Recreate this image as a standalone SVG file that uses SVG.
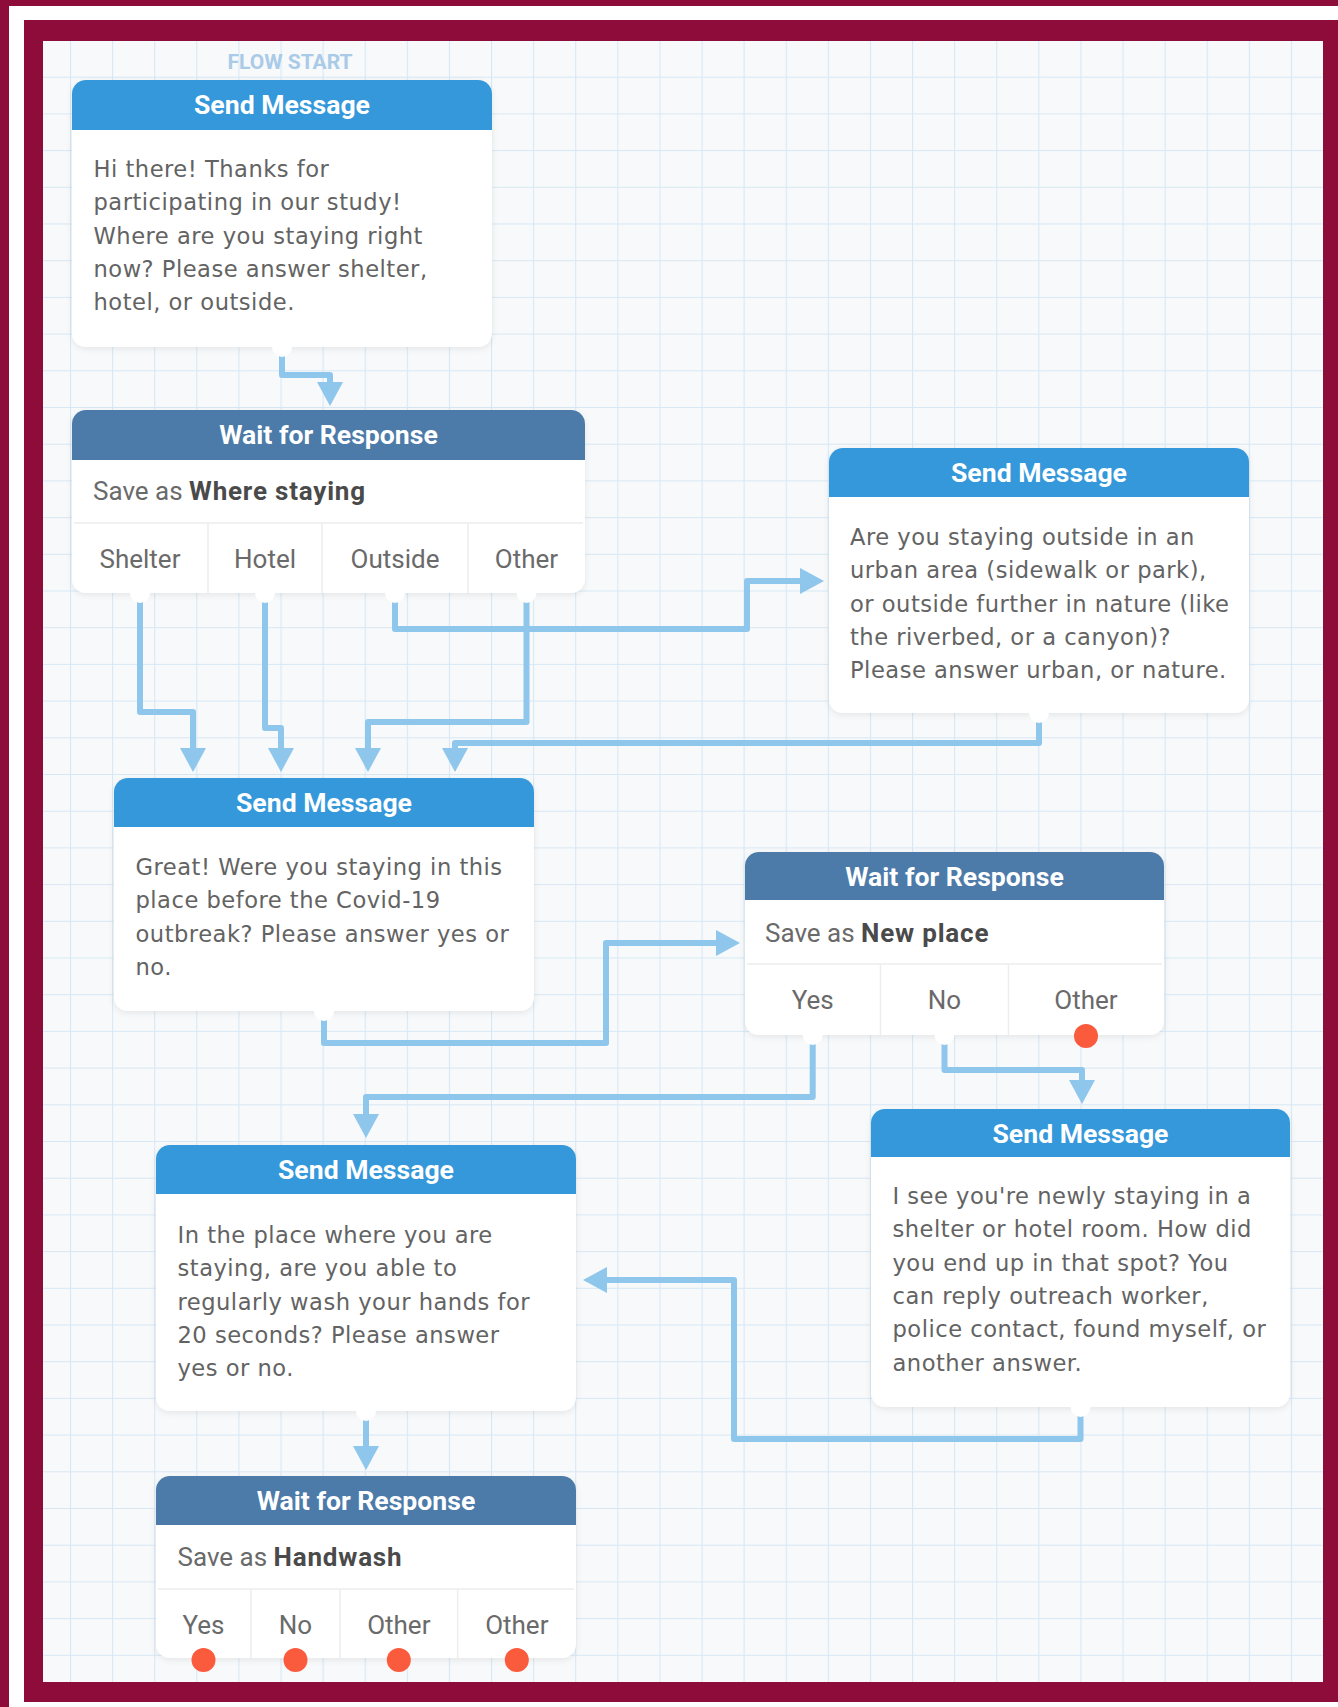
<svg xmlns="http://www.w3.org/2000/svg" width="1338" height="1707" viewBox="0 0 1338 1707">
<defs>
<pattern id="grid" patternUnits="userSpaceOnUse" x="70" y="76.7" width="42.1" height="36.7">
<path d="M0.5,0 V36.7 M0,0.5 H42.1" fill="none" stroke="#d6e8f6" stroke-width="1.2"/>
</pattern>
<marker id="arr" viewBox="0 0 24 26" refX="1" refY="13" markerWidth="24" markerHeight="26" markerUnits="userSpaceOnUse" orient="auto">
<path d="M0,0 L24,13 L0,26 Z" fill="#8fc6ec"/>
</marker>
<filter id="sh" x="-10%" y="-10%" width="120%" height="130%">
<feDropShadow dx="0" dy="2" stdDeviation="3" flood-color="#000" flood-opacity="0.08"/>
</filter>
</defs>
<style>
.body{fill:#fff;filter:url(#sh)}
.hs{fill:#3498db}
.hw{fill:#4c7ba9}
.title{font-family:Roboto,"Liberation Sans",sans-serif;font-weight:bold;font-size:26.6px;fill:#fff;text-anchor:middle}
.txt{font-family:"DejaVu Sans","Liberation Sans",sans-serif;font-size:22.6px;fill:#636363;letter-spacing:0.5px}
.save{font-family:Roboto,"Liberation Sans",sans-serif;font-size:26px;fill:#6a6a6a}
.save tspan.b{font-weight:bold;fill:#4a4a4a;letter-spacing:0.8px}
.cat{font-family:Roboto,"Liberation Sans",sans-serif;font-size:26px;fill:#6a6a6a;text-anchor:middle}
.sep{stroke:#ededed;stroke-width:1.5;fill:none}
.port{fill:#fff}
.dot{fill:#fb5b3d}
.con{fill:none;stroke:#8fc6ec;stroke-width:6;stroke-linejoin:round;marker-end:url(#arr)}
.fs{font-family:Roboto,"Liberation Sans",sans-serif;font-weight:bold;font-size:21px;fill:#a9cbe8;text-anchor:middle}
</style>
<!-- frame -->
<rect x="0" y="0" width="1338" height="1707" fill="#8e0c3a"/>
<rect x="9" y="6" width="1329" height="1701" fill="#ffffff"/>
<rect x="24" y="20" width="1314" height="1682" fill="#8e0c3a"/>
<rect x="43" y="41" width="1280" height="1641" fill="#f8f9fa"/>
<rect x="43" y="41" width="1280" height="1641" fill="url(#grid)"/>
<text class="fs" x="290" y="69">FLOW START</text>
<g id="connectors">
<path class="con" d="M282,347 V375 H330 V383"/>
<path class="con" d="M140,593 V712 H193 V749"/>
<path class="con" d="M265,593 V728 H281 V749"/>
<path class="con" d="M526.5,593 V722 H368 V749"/>
<path class="con" d="M1039,713 V743 H455 V749"/>
<path class="con" d="M395,593 V629 H747 V581 H801"/>
<path class="con" d="M324,1011 V1043 H606 V943 H717"/>
<path class="con" d="M812.7,1035 V1097 H366 V1115"/>
<path class="con" d="M944.5,1035 V1070 H1082 V1081"/>
<path class="con" d="M1080.5,1407 V1439 H734 V1280 H606"/>
<path class="con" d="M366,1411 V1447"/>
</g>
<g id="n1">
<rect class="body" x="72" y="80" width="420" height="267" rx="14"/>
<path class="hs" d="M72,130 V94 A14,14 0 0 1 86,80 H478 A14,14 0 0 1 492,94 V130 Z"/>
<text class="title" x="282" y="114">Send Message</text>
<text class="txt" x="93.5" y="177">Hi there! Thanks for</text>
<text class="txt" x="93.5" y="210.3">participating in our study!</text>
<text class="txt" x="93.5" y="243.6">Where are you staying right</text>
<text class="txt" x="93.5" y="277">now? Please answer shelter,</text>
<text class="txt" x="93.5" y="310.3">hotel, or outside.</text>
<circle class="port" cx="282" cy="347" r="10"/>
</g>
<g id="n2">
<rect class="body" x="72" y="410" width="513" height="183" rx="14"/>
<path class="hw" d="M72,460 V424 A14,14 0 0 1 86,410 H571 A14,14 0 0 1 585,424 V460 Z"/>
<text class="title" x="328.5" y="444">Wait for Response</text>
<text class="save" x="93" y="500">Save as <tspan class="b">Where staying</tspan></text>
<path class="sep" d="M74,523 H583 M208,523 V593 M322,523 V593 M468,523 V593"/>
<text class="cat" x="140" y="568">Shelter</text>
<text class="cat" x="265" y="568">Hotel</text>
<text class="cat" x="395" y="568">Outside</text>
<text class="cat" x="526.5" y="568">Other</text>
<circle class="port" cx="140" cy="593" r="10"/>
<circle class="port" cx="265" cy="593" r="10"/>
<circle class="port" cx="395" cy="593" r="10"/>
<circle class="port" cx="526.5" cy="593" r="10"/>
</g>
<g id="n3">
<rect class="body" x="829" y="448" width="420" height="265" rx="14"/>
<path class="hs" d="M829,497 V462 A14,14 0 0 1 843,448 H1235 A14,14 0 0 1 1249,462 V497 Z"/>
<text class="title" x="1039" y="482">Send Message</text>
<text class="txt" x="850" y="545">Are you staying outside in an</text>
<text class="txt" x="850" y="578.3">urban area (sidewalk or park),</text>
<text class="txt" x="850" y="611.6">or outside further in nature (like</text>
<text class="txt" x="850" y="645">the riverbed, or a canyon)?</text>
<text class="txt" x="850" y="678.3">Please answer urban, or nature.</text>
<circle class="port" cx="1039" cy="713" r="10"/>
</g>
<g id="n4">
<rect class="body" x="114" y="778" width="420" height="233" rx="14"/>
<path class="hs" d="M114,827 V792 A14,14 0 0 1 128,778 H520 A14,14 0 0 1 534,792 V827 Z"/>
<text class="title" x="324" y="812">Send Message</text>
<text class="txt" x="135.5" y="875">Great! Were you staying in this</text>
<text class="txt" x="135.5" y="908.3">place before the Covid-19</text>
<text class="txt" x="135.5" y="941.6">outbreak? Please answer yes or</text>
<text class="txt" x="135.5" y="975">no.</text>
<circle class="port" cx="324" cy="1011" r="10"/>
</g>
<g id="n5">
<rect class="body" x="745" y="852" width="419" height="183" rx="14"/>
<path class="hw" d="M745,900 V866 A14,14 0 0 1 759,852 H1150 A14,14 0 0 1 1164,866 V900 Z"/>
<text class="title" x="954.5" y="886">Wait for Response</text>
<text class="save" x="765" y="942">Save as <tspan class="b">New place</tspan></text>
<path class="sep" d="M747,964 H1162 M880.5,964 V1035 M1008.5,964 V1035"/>
<text class="cat" x="812.7" y="1009">Yes</text>
<text class="cat" x="944.5" y="1009">No</text>
<text class="cat" x="1086" y="1009">Other</text>
<circle class="port" cx="812.7" cy="1035" r="10"/>
<circle class="port" cx="944.5" cy="1035" r="10"/>
<circle class="dot" cx="1086" cy="1036" r="12"/>
</g>
<g id="n6">
<rect class="body" x="871" y="1109" width="419" height="298" rx="14"/>
<path class="hs" d="M871,1157 V1123 A14,14 0 0 1 885,1109 H1276 A14,14 0 0 1 1290,1123 V1157 Z"/>
<text class="title" x="1080.5" y="1143">Send Message</text>
<text class="txt" x="892.5" y="1204">I see you're newly staying in a</text>
<text class="txt" x="892.5" y="1237.3">shelter or hotel room. How did</text>
<text class="txt" x="892.5" y="1270.6">you end up in that spot? You</text>
<text class="txt" x="892.5" y="1304">can reply outreach worker,</text>
<text class="txt" x="892.5" y="1337.3">police contact, found myself, or</text>
<text class="txt" x="892.5" y="1370.6">another answer.</text>
<circle class="port" cx="1080.5" cy="1407" r="10"/>
</g>
<g id="n7">
<rect class="body" x="156" y="1145" width="420" height="266" rx="14"/>
<path class="hs" d="M156,1194 V1159 A14,14 0 0 1 170,1145 H562 A14,14 0 0 1 576,1159 V1194 Z"/>
<text class="title" x="366" y="1179">Send Message</text>
<text class="txt" x="177.5" y="1243">In the place where you are</text>
<text class="txt" x="177.5" y="1276.3">staying, are you able to</text>
<text class="txt" x="177.5" y="1309.6">regularly wash your hands for</text>
<text class="txt" x="177.5" y="1343">20 seconds? Please answer</text>
<text class="txt" x="177.5" y="1376.3">yes or no.</text>
<circle class="port" cx="366" cy="1411" r="10"/>
</g>
<g id="n8">
<rect class="body" x="156" y="1476" width="420" height="182" rx="14"/>
<path class="hw" d="M156,1525 V1490 A14,14 0 0 1 170,1476 H562 A14,14 0 0 1 576,1490 V1525 Z"/>
<text class="title" x="366" y="1510">Wait for Response</text>
<text class="save" x="177.5" y="1566">Save as <tspan class="b">Handwash</tspan></text>
<path class="sep" d="M158,1589 H574 M251,1589 V1658 M340,1589 V1658 M457.6,1589 V1658"/>
<text class="cat" x="203.5" y="1634">Yes</text>
<text class="cat" x="295.5" y="1634">No</text>
<text class="cat" x="398.8" y="1634">Other</text>
<text class="cat" x="516.8" y="1634">Other</text>
<circle class="dot" cx="203.5" cy="1660" r="12"/>
<circle class="dot" cx="295.5" cy="1660" r="12"/>
<circle class="dot" cx="398.8" cy="1660" r="12"/>
<circle class="dot" cx="516.8" cy="1660" r="12"/>
</g>
</svg>
